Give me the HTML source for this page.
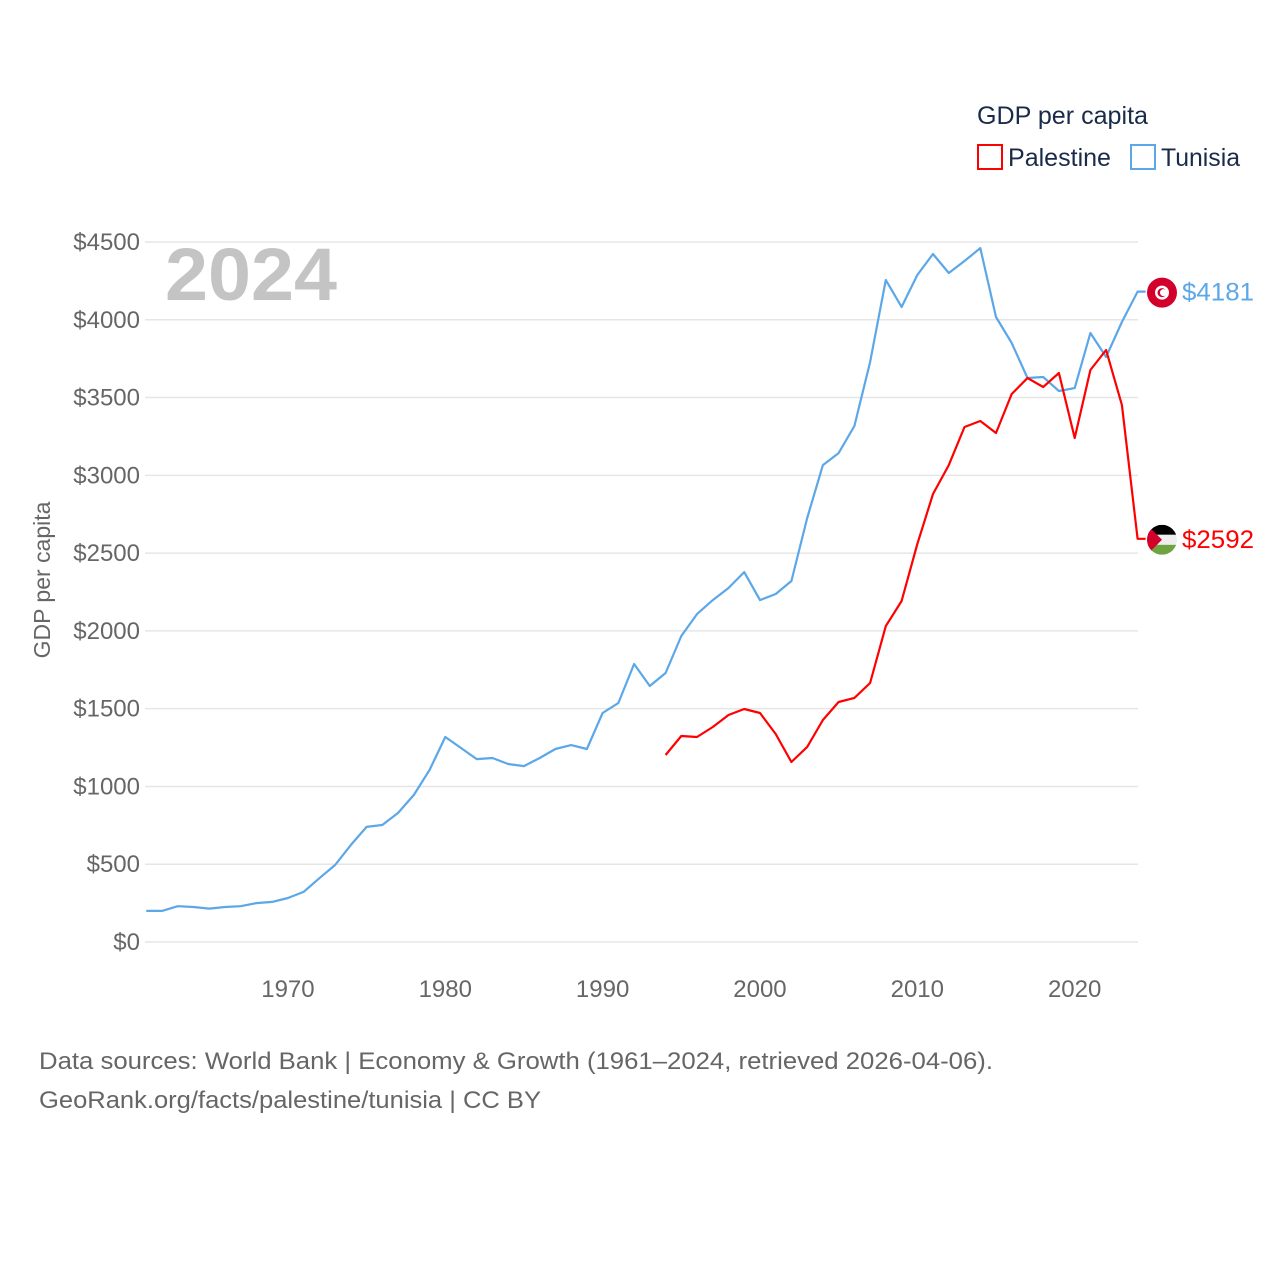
<!DOCTYPE html>
<html><head><meta charset="utf-8">
<style>
html,body{margin:0;padding:0;background:#fff;}
body{width:1280px;height:1280px;overflow:hidden;font-family:"Liberation Sans",sans-serif;}
svg text{font-family:"Liberation Sans",sans-serif;}
</style></head>
<body>
<svg id="chart" width="1280" height="1280" viewBox="0 0 1280 1280" xmlns="http://www.w3.org/2000/svg">
  <g id="grid"></g>
  <g id="yticks"></g>
  <g id="xticks"></g>
  <text x="165" y="300" font-size="74" font-weight="bold" fill="#c4c4c4" textLength="172" lengthAdjust="spacingAndGlyphs">2024</text>
  <text transform="translate(50,580) rotate(-90)" text-anchor="middle" font-size="23" fill="#666">GDP per capita</text>
  <g id="series"></g>
  <g>
    <text x="977" y="124" font-size="25" fill="#1a2b4a" textLength="171" lengthAdjust="spacingAndGlyphs">GDP per capita</text>
    <g>
      <rect x="978" y="145" width="24" height="24" fill="none" stroke="#ff0000" stroke-width="2"/>
      <text x="1008" y="166" font-size="25" fill="#1a2b4a" textLength="103" lengthAdjust="spacingAndGlyphs">Palestine</text>
    </g>
    <g>
      <rect x="1131" y="145" width="24" height="24" fill="none" stroke="#5ba7e8" stroke-width="2"/>
      <text x="1161" y="166" font-size="25" fill="#1a2b4a" textLength="79" lengthAdjust="spacingAndGlyphs">Tunisia</text>
    </g>
  </g>
  <g id="endlabels"></g>
  <text x="39" y="1069" font-size="24" fill="#666" textLength="954" lengthAdjust="spacingAndGlyphs">Data sources: World Bank | Economy &amp; Growth (1961–2024, retrieved 2026-04-06).</text>
  <text x="39" y="1108" font-size="24" fill="#666" textLength="502" lengthAdjust="spacingAndGlyphs">GeoRank.org/facts/palestine/tunisia | CC BY</text>
</svg>
<script>
const tunisiaYears = [1961,1962,1963,1964,1965,1966,1967,1968,1969,1970,1971,1972,1973,1974,1975,1976,1977,1978,1979,1980,1981,1982,1983,1984,1985,1986,1987,1988,1989,1990,1991,1992,1993,1994,1995,1996,1997,1998,1999,2000,2001,2002,2003,2004,2005,2006,2007,2008,2009,2010,2011,2012,2013,2014,2015,2016,2017,2018,2019,2020,2021,2022,2023,2024];
const tunisiaValues = [200,200,230,225,215,225,230,250,258,283,322,410,495,624,740,752,830,945,1105,1318,1247,1176,1183,1144,1131,1183,1241,1266,1241,1472,1536,1787,1646,1729,1967,2108,2198,2276,2378,2198,2237,2321,2726,3066,3143,3317,3728,4256,4082,4288,4423,4301,4378,4461,4018,3851,3626,3632,3542,3561,3915,3761,3986,4181];
const palestineYears = [1994,1995,1996,1997,1998,1999,2000,2001,2002,2003,2004,2005,2006,2007,2008,2009,2010,2011,2012,2013,2014,2015,2016,2017,2018,2019,2020,2021,2022,2023,2024];
const palestineValues = [1202,1324,1318,1382,1459,1498,1472,1337,1157,1254,1427,1543,1569,1665,2031,2192,2558,2880,3066,3311,3349,3272,3523,3626,3568,3658,3240,3677,3806,3452,2592];
const yTicks = [0,500,1000,1500,2000,2500,3000,3500,4000,4500];
const xTicks = [1970,1980,1990,2000,2010,2020];

const NS = "http://www.w3.org/2000/svg";
const X0 = 146.3, X1 = 1137.6, Y0 = 942, Y1 = 242;
function xs(yr){ return X0 + (yr-1961)/(2024-1961)*(X1-X0); }
function ys(v){ return Y0 - v/4500*(Y0-Y1); }
function mk(tag, attrs, parent){ const e=document.createElementNS(NS,tag); for(const k in attrs) e.setAttribute(k, attrs[k]); parent.appendChild(e); return e; }

const grid=document.getElementById('grid'), yt=document.getElementById('yticks'), xt=document.getElementById('xticks');
yTicks.forEach(v=>{
  const l=mk('line',{x1:145,x2:1138,y1:ys(v),y2:ys(v),stroke:'#e6e6e6','stroke-width':1.5},grid);
  
  
  const t=mk('text',{x:140,y:ys(v)+8,'text-anchor':'end','font-size':24,fill:'#666'},yt);
  t.textContent='$'+v;
  
  
});
xTicks.forEach(yr=>{
  const t=mk('text',{x:xs(yr),y:997,'text-anchor':'middle','font-size':24,fill:'#666'},xt);
  t.textContent=yr;
  
  
});

const ser=document.getElementById('series');
function line(years, vals, color, name){
  let d=years.map((y,i)=>(i?'L':'M')+xs(y).toFixed(1)+','+ys(vals[i]).toFixed(1)).join(' ');
  const last=vals[vals.length-1];
  d+=' L'+(xs(years[years.length-1])+8).toFixed(1)+','+ys(last).toFixed(1);
  const p=mk('path',{d:d,fill:'none',stroke:color,'stroke-width':2.2,'stroke-linejoin':'round'},ser);
  
  
}
line(tunisiaYears,tunisiaValues,'#5ba7e8','tunisia-line');
line(palestineYears,palestineValues,'#ff0000','palestine-line');

const el=document.getElementById('endlabels');
(function(){
  const v=tunisiaValues[tunisiaValues.length-1], cy=ys(v);
  const g=mk('g',{},el);
  
  
  mk('circle',{cx:1162,cy:cy+1,r:15,fill:'#d2002a'},g);
  mk('circle',{cx:1162,cy:cy+1,r:7,fill:'#fff'},g);
  mk('circle',{cx:1162,cy:cy+1,r:4.5,fill:'#d2002a'},g);
  mk('circle',{cx:1163.5,cy:cy+1,r:3.5,fill:'#fff'},g);
  const t=mk('text',{x:1182,y:cy+9,'font-size':25,fill:'#5ba7e8',textLength:72,lengthAdjust:'spacingAndGlyphs'},g);
  t.textContent='$'+v;
})();
(function(){
  const v=palestineValues[palestineValues.length-1], cy=ys(v);
  const g=mk('g',{},el);
  
  
  const cp=mk('clipPath',{id:'pc'},g); mk('circle',{cx:1162,cy:cy+1,r:15},cp);
  const f=mk('g',{'clip-path':'url(#pc)'},g);
  mk('rect',{x:1147,y:cy-14,width:30,height:10,fill:'#000'},f);
  mk('rect',{x:1147,y:cy-4,width:30,height:10,fill:'#eee'},f);
  mk('rect',{x:1147,y:cy+6,width:30,height:10,fill:'#6fa341'},f);
  mk('polygon',{points:`1147,${cy-14} 1162,${cy+1} 1147,${cy+16}`,fill:'#d2002a'},f);
  const t=mk('text',{x:1182,y:cy+9,'font-size':25,fill:'#ff0000',textLength:72,lengthAdjust:'spacingAndGlyphs'},g);
  t.textContent='$'+v;
})();
</script>
</body></html>
